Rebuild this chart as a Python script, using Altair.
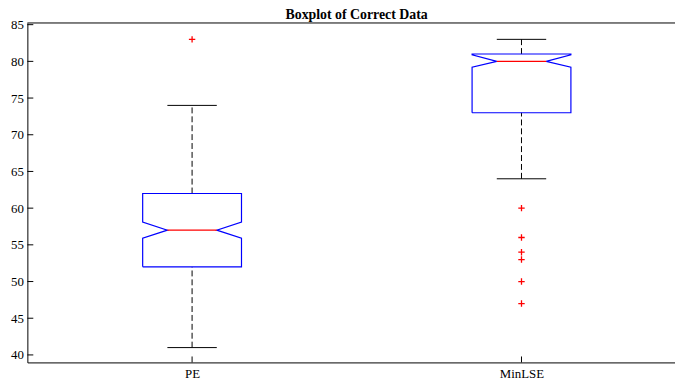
import altair as alt
import pandas as pd

# ---- data ----
groups = ["PE", "MinLSE"]
positions = [1, 2]
q1 = [52, 73]
median = [57, 80]
q3 = [62, 81]
notch_lo = [55.9, 79.2]
notch_hi = [58.1, 80.9]
whisker_lo = [41, 64]
whisker_hi = [74, 83]
outliers_PE = [83]
outliers_MinLSE = [60, 56, 54, 53, 50, 47]
y_ticks = [40, 45, 50, 55, 60, 65, 70, 75, 80, 85]

HALF = 0.15      # half box width (x units)
INNER = 0.075    # notch / cap half width

W, H = 655, 343.3
XDOM = [0.5, 2.466]
YDOM = [38.98, 85.23]
FONT = "Liberation Serif"

xs = alt.Scale(domain=XDOM, nice=False, zero=False)
ys = alt.Scale(domain=YDOM, nice=False, zero=False)

X_AX = alt.Axis(values=positions, ticks=False, grid=False, domainColor="#000000",
                labelExpr="datum.value == 1 ? 'PE' : 'MinLSE'",
                labelFont=FONT, labelFontSize=13, labelColor="#000000",
                labelPadding=5, title=None)
Y_AX = alt.Axis(values=y_ticks, ticks=False, grid=False, domainColor="#000000",
                labelFont=FONT, labelFontSize=13, labelColor="#000000",
                labelPadding=4, title=None)


def X(f):
    return alt.X(f, scale=xs, axis=X_AX)


def Y(f):
    return alt.Y(f, scale=ys, axis=Y_AX)


# box outline polygons
rows = []
for g, p, a, lo, m, hi, b in zip(groups, positions, q1, notch_lo, median, notch_hi, q3):
    pts = [(-HALF, a), (-HALF, lo), (-INNER, m), (-HALF, hi), (-HALF, b),
           (HALF, b), (HALF, hi), (INNER, m), (HALF, lo), (HALF, a), (-HALF, a)]
    for i, (dx, y) in enumerate(pts):
        rows.append({"g": g, "o": i, "x": p + dx, "y": y})
box_df = pd.DataFrame(rows)

stats = pd.DataFrame({
    "g": groups, "p": positions, "q1": q1, "q3": q3, "med": median,
    "wl": whisker_lo, "wh": whisker_hi,
    "il": [p - INNER for p in positions], "ir": [p + INNER for p in positions],
})

out_df = pd.DataFrame(
    [{"p": 1, "v": v} for v in outliers_PE] + [{"p": 2, "v": v} for v in outliers_MinLSE]
)

ytick_layer = alt.Chart(pd.DataFrame({"y": y_ticks})).mark_rule(color="#000000", strokeWidth=1).encode(
    y=Y("y:Q"), x=alt.value(0), x2=alt.value(6)
)
xtick_layer = alt.Chart(pd.DataFrame({"x": positions})).mark_rule(color="#000000", strokeWidth=1).encode(
    x=X("x:Q"), y=alt.value(H), y2=alt.value(H - 6)
)
top_line = alt.Chart(pd.DataFrame({"a": [0]})).mark_rule(color="#000000", strokeWidth=1).encode(
    x=alt.value(0), x2=alt.value(W), y=alt.value(0)
)

whisk_up = alt.Chart(stats).mark_rule(color="#000000", strokeDash=[6, 3], strokeWidth=1).encode(
    x=X("p:Q"), y=Y("q3:Q"), y2="wh:Q"
)
whisk_dn = alt.Chart(stats).mark_rule(color="#000000", strokeDash=[6, 3], strokeWidth=1).encode(
    x=X("p:Q"), y=Y("wl:Q"), y2="q1:Q"
)
cap_up = alt.Chart(stats).mark_rule(color="#000000", strokeWidth=1).encode(
    x=X("il:Q"), x2="ir:Q", y=Y("wh:Q")
)
cap_dn = alt.Chart(stats).mark_rule(color="#000000", strokeWidth=1).encode(
    x=X("il:Q"), x2="ir:Q", y=Y("wl:Q")
)
boxes = alt.Chart(box_df).mark_line(color="#0000FF", strokeWidth=1.2).encode(
    x=X("x:Q"), y=Y("y:Q"), detail="g:N", order="o:Q"
)
med_line = alt.Chart(stats).mark_rule(color="#FF0000", strokeWidth=1.2).encode(
    x=X("il:Q"), x2="ir:Q", y=Y("med:Q")
)
outs = alt.Chart(out_df).mark_point(
    shape="M-1,0L1,0M0,-1L0,1", color="#FF0000", filled=False, size=42, strokeWidth=1.3,
    opacity=1
).encode(
    x=X("p:Q"), y=Y("v:Q")
)
title = alt.Chart(pd.DataFrame({"t": ["Boxplot of Correct Data"]})).mark_text(
    font=FONT, fontSize=14, fontWeight="bold", color="#000000", baseline="alphabetic", align="center"
).encode(text="t:N", x=alt.value(333), y=alt.value(-4))

chart = alt.layer(
    top_line, ytick_layer, xtick_layer,
    whisk_up, whisk_dn, cap_up, cap_dn, boxes, med_line, outs, title
).properties(
    width=W, height=H,
    autosize=alt.AutoSizeParams(type="none"),
    padding={"left": 19.6, "top": 13, "right": 0, "bottom": 22},
).configure_view(stroke=None)

chart.save("out.html", embed_options={"renderer": "svg", "actions": False})
